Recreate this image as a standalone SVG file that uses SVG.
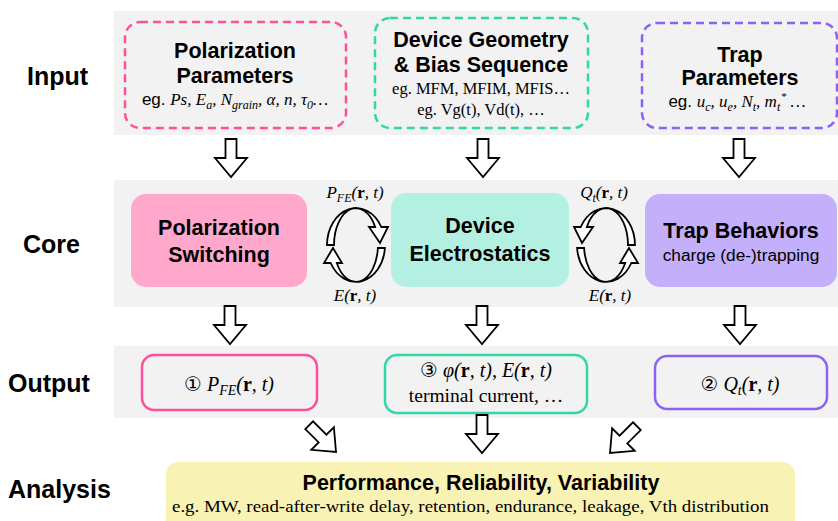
<svg xmlns="http://www.w3.org/2000/svg" xmlns:xlink="http://www.w3.org/1999/xlink" width="838" height="521" viewBox="0 0 838 521">
<style>
.band{fill:#F2F2F2}
.lbl{font-family:"Liberation Sans",Arial,sans-serif;font-weight:bold;font-size:25px;fill:#000}
.ttl{font-family:"Liberation Sans",Arial,sans-serif;font-weight:bold;font-size:21.5px;fill:#000;text-anchor:middle}
.sans{font-family:"Liberation Sans",Arial,sans-serif;font-style:normal;font-weight:normal}
.sub{font-family:"Liberation Sans",Arial,sans-serif;font-size:17.3px;text-anchor:middle;fill:#000}
.m{font-family:"Liberation Serif","DejaVu Serif",serif;font-style:italic;fill:#000}
.b{font-style:normal;font-weight:bold}
.ser{font-family:"Liberation Serif","DejaVu Serif",serif;fill:#000;text-anchor:middle}
.num{font-family:"DejaVu Sans","Noto Sans CJK SC",sans-serif;font-style:normal}
.dash{fill:none;stroke-width:2.5;stroke-dasharray:8 5}
.out{fill:none;stroke-width:2.5}
.arr{fill:#fff;stroke:#000;stroke-width:1.8;stroke-linejoin:miter}
.pk{stroke:#FF4F9A}
.tl{stroke:#33D6A8}
.pu{stroke:#8C62F4}
</style>
<defs>
<path id="ba" d="M-5.5,-38 H5.5 V-19 H16 L0,0 L-16,-19 H-5.5 Z"/>
<g id="cyc">
<path d="M327,245 A29 37 0 0 1 381.3,227 L388,227 L380,243 L369,227 L375.2,227 A22 37 0 0 0 334,245 Z"/>
<path d="M384.9,248 A29 37 0 0 1 330.7,263 L324,263 L333,248 L342,263 L336.8,263 A22 37 0 0 0 377.9,248 Z"/>
</g>
</defs>

<!-- bands -->
<rect class="band" x="114" y="11" width="724" height="124"/>
<rect class="band" x="114" y="180" width="724" height="127"/>
<rect class="band" x="114" y="346" width="724" height="72"/>

<!-- row labels -->
<text class="lbl" x="27" y="85">Input</text>
<text class="lbl" x="23" y="253">Core</text>
<text class="lbl" x="8" y="392">Output</text>
<text class="lbl" x="8" y="498">Analysis</text>

<!-- input nodes -->
<g id="in-pol">
<rect class="dash pk" x="125" y="22" width="221" height="106" rx="15"/>
<text class="ttl" x="235" y="58">Polarization</text>
<text class="ttl" x="235" y="83">Parameters</text>
<text x="235" y="105" text-anchor="middle" font-size="17"><tspan class="sans">eg. </tspan><tspan class="m">Ps, E</tspan><tspan class="m" font-size="12" dy="4">a</tspan><tspan class="m" dy="-4">, N</tspan><tspan class="m" font-size="12" dy="4">grain</tspan><tspan class="m" dy="-4">, α, n, τ</tspan><tspan class="m" font-size="12" dy="4">0</tspan><tspan class="m" dy="-4">…</tspan></text>
</g>
<g id="in-dev">
<rect class="dash tl" x="375" y="18" width="213" height="110" rx="15"/>
<text class="ttl" x="481" y="47">Device Geometry</text>
<text class="ttl" x="481" y="72">&amp; Bias Sequence</text>
<text class="ser" x="481" y="94" font-size="16.5">eg. MFM, MFIM, MFIS…</text>
<text class="ser" x="481" y="115" font-size="16.5">eg. Vg(t), Vd(t), …</text>
</g>
<g id="in-trap">
<rect class="dash pu" x="642" y="23" width="195" height="105" rx="15"/>
<text class="ttl" x="740" y="62">Trap</text>
<text class="ttl" x="740" y="85">Parameters</text>
<text x="737" y="107" text-anchor="middle" font-size="17"><tspan class="sans">eg. </tspan><tspan class="m">u</tspan><tspan class="m" font-size="12" dy="4">c</tspan><tspan class="m" dy="-4">, u</tspan><tspan class="m" font-size="12" dy="4">e</tspan><tspan class="m" dy="-4">, N</tspan><tspan class="m" font-size="12" dy="4">t</tspan><tspan class="m" dy="-4">, m</tspan><tspan class="m" font-size="12" dy="4">t</tspan><tspan class="m" font-size="11" dx="0.5" dy="-11">*</tspan><tspan class="m" dy="7"> …</tspan></text>
</g>

<!-- core nodes -->
<g id="core-pol">
<rect x="131" y="194" width="176" height="93" rx="15" fill="#FFA8CC"/>
<text class="ttl" x="219" y="235">Polarization</text>
<text class="ttl" x="219" y="262">Switching</text>
</g>
<g id="core-dev">
<rect x="391" y="193" width="178" height="94" rx="15" fill="#B4F0E1"/>
<text class="ttl" x="480" y="233">Device</text>
<text class="ttl" x="480" y="261">Electrostatics</text>
</g>
<g id="core-trap">
<rect x="645" y="194" width="192" height="93" rx="15" fill="#C3AFFA"/>
<text class="ttl" x="741" y="238">Trap Behaviors</text>
<text class="sub" x="741" y="261">charge (de-)trapping</text>
</g>

<!-- output nodes -->
<g id="out-pol">
<rect class="out pk" x="142" y="355" width="175" height="55" rx="12"/>
<text x="229" y="391" text-anchor="middle" font-size="20"><tspan class="num">①</tspan><tspan class="m"> P</tspan><tspan class="m" font-size="14" dy="4">FE</tspan><tspan class="m" dy="-4">(</tspan><tspan class="m b">r</tspan><tspan class="m">, t)</tspan></text>
</g>
<g id="out-dev">
<rect class="out tl" x="385" y="355" width="202" height="58" rx="12"/>
<text x="486" y="377" text-anchor="middle" font-size="20"><tspan class="num">③</tspan><tspan class="m"> φ(</tspan><tspan class="m b">r</tspan><tspan class="m">, t), E(</tspan><tspan class="m b">r</tspan><tspan class="m">, t)</tspan></text>
<text class="ser" x="486" y="402" font-size="19.5">terminal current, …</text>
</g>
<g id="out-trap">
<rect class="out pu" x="655" y="356" width="172" height="53" rx="12"/>
<text x="740" y="391" text-anchor="middle" font-size="20"><tspan class="num">②</tspan><tspan class="m"> Q</tspan><tspan class="m" font-size="14" dy="4">t</tspan><tspan class="m" dy="-4">(</tspan><tspan class="m b">r</tspan><tspan class="m">, t)</tspan></text>
</g>

<!-- analysis node -->
<g id="analysis">
<rect x="166" y="462" width="629" height="75" rx="12" fill="#F9F2B5"/>
<text class="ttl" x="481" y="490">Performance, Reliability, Variability</text>
<text x="172" y="512" font-family="'Liberation Serif',serif" font-size="16" textLength="597" lengthAdjust="spacingAndGlyphs">e.g. MW, read-after-write delay, retention, endurance, leakage, Vth distribution</text>
</g>

<!-- connectors -->
<g id="connectors" class="arr">
<use href="#ba" xlink:href="#ba" transform="translate(231,177)"/>
<use href="#ba" xlink:href="#ba" transform="translate(483,177)"/>
<use href="#ba" xlink:href="#ba" transform="translate(739,177)"/>
<use href="#ba" xlink:href="#ba" transform="translate(230,344)"/>
<use href="#ba" xlink:href="#ba" transform="translate(482,344)"/>
<use href="#ba" xlink:href="#ba" transform="translate(740,344)"/>
<use href="#ba" xlink:href="#ba" transform="translate(336,452) rotate(-45)"/>
<use href="#ba" xlink:href="#ba" transform="translate(482,453)"/>
<use href="#ba" xlink:href="#ba" transform="translate(610,453) rotate(45)"/>
<use href="#cyc" xlink:href="#cyc"/>
<use href="#cyc" xlink:href="#cyc" transform="translate(962,0) scale(-1,1)"/>
</g>

<!-- cycle labels -->
<g id="cycle-labels" font-size="17">
<text x="355" y="198" text-anchor="middle"><tspan class="m">P</tspan><tspan class="m" font-size="12" dy="4">FE</tspan><tspan class="m" dy="-4">(</tspan><tspan class="m b">r</tspan><tspan class="m">, t)</tspan></text>
<text x="355" y="301" text-anchor="middle"><tspan class="m">E(</tspan><tspan class="m b">r</tspan><tspan class="m">, t)</tspan></text>
<text x="604" y="198" text-anchor="middle"><tspan class="m">Q</tspan><tspan class="m" font-size="12" dy="4">t</tspan><tspan class="m" dy="-4">(</tspan><tspan class="m b">r</tspan><tspan class="m">, t)</tspan></text>
<text x="610" y="301" text-anchor="middle"><tspan class="m">E(</tspan><tspan class="m b">r</tspan><tspan class="m">, t)</tspan></text>
</g>
</svg>
